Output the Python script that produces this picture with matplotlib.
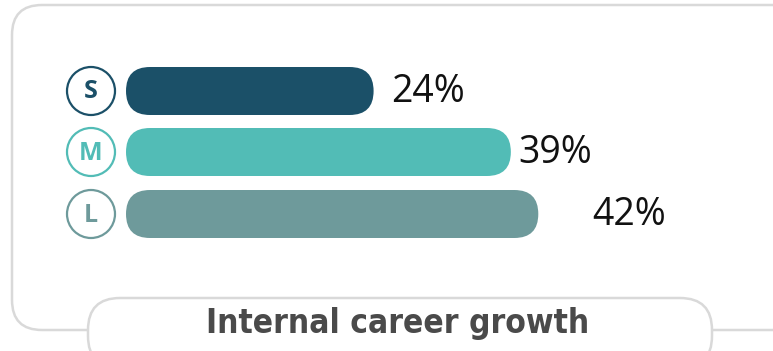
import matplotlib
matplotlib.use("Agg")
import matplotlib.pyplot as plt
from matplotlib.patches import FancyBboxPatch, Circle

# bar data
sizes = ["S", "M", "L"]
values = [24, 39, 42]
colors = ["#1b5068", "#52bcb6", "#6e9a9b"]
title = "Internal career growth"

# layout (pixel units)
x0 = 126
base = 28
px_per_pct = 9.15
bar_h = 48
row_y = [91, 152, 214]
label_gap = [18, 7, 54]

fig = plt.figure(figsize=(7.73, 3.51), dpi=100)
ax = fig.add_axes([0, 0, 1, 1])
ax.set_xlim(0, 773)
ax.set_ylim(351, 0)
ax.set_aspect("equal")
ax.axis("off")

# card outline
card = FancyBboxPatch((12, 5), 790, 325, boxstyle="round,pad=0,rounding_size=30",
                      fc="white", ec="#d9d9d9", lw=1.8)
ax.add_patch(card)

for i in range(len(values)):
    y = row_y[i]
    w = base + values[i] * px_per_pct
    bar = FancyBboxPatch((x0, y - bar_h / 2), w, bar_h,
                         boxstyle="round,pad=0,rounding_size=24",
                         fc=colors[i], ec="none")
    ax.add_patch(bar)
    ax.add_patch(Circle((91, y), 24, fc="white", ec=colors[i], lw=1.6))
    ax.text(91, y + 1, sizes[i], color=colors[i], fontsize=18, fontweight="bold",
            ha="center", va="center", family="Open Sans")
    ax.text(x0 + w + label_gap[i], y + 1, f"{values[i]}%", color="#111111",
            fontsize=27, ha="left", va="center", family="Open Sans")

# title pill
pill = FancyBboxPatch((88, 298), 624, 70, boxstyle="round,pad=0,rounding_size=32",
                      fc="white", ec="#d9d9d9", lw=1.8)
ax.add_patch(pill)
ax.text(398, 323, title, color="#4a4a4a", fontsize=24, fontweight="bold",
        fontstretch="condensed", ha="center", va="center", family="DejaVu Sans")

fig.savefig("out.png", dpi=100)
